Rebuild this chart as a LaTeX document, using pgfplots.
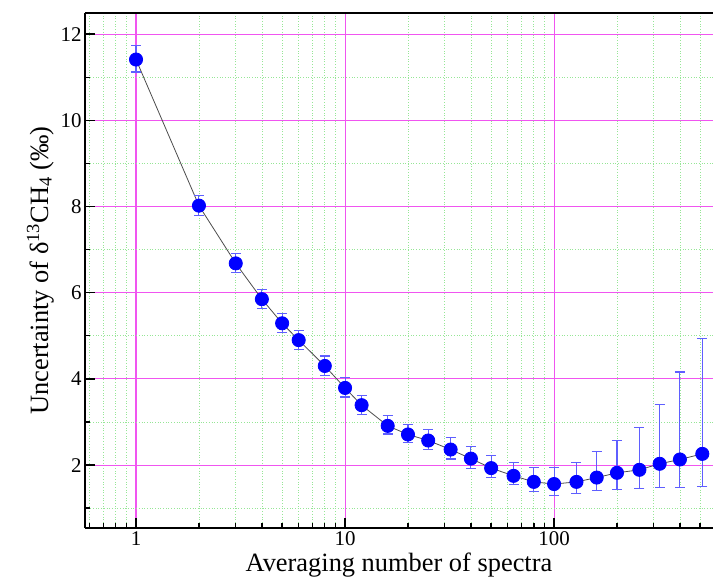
\documentclass[border=0pt]{standalone}
\usepackage{fontspec}
\setmainfont{Liberation Serif}
\usepackage{pgfplots}
\pgfplotsset{compat=1.18}
\usepackage{pgfplotstable}
\definecolor{majgrid}{RGB}{240,85,240}
\definecolor{mingrid}{RGB}{150,230,150}
\definecolor{errc}{RGB}{95,95,255}

\pgfplotstableread{
x y ep em
1 11.41 0.32 0.29
2 8.02 0.23 0.22
3 6.68 0.22 0.22
4 5.85 0.22 0.22
5 5.29 0.22 0.21
6 4.90 0.22 0.21
8 4.30 0.23 0.22
10 3.79 0.24 0.21
12 3.39 0.22 0.21
16 2.91 0.23 0.19
20 2.71 0.23 0.19
25 2.57 0.26 0.21
32 2.36 0.28 0.22
40 2.15 0.28 0.22
50 1.93 0.29 0.22
64 1.75 0.32 0.21
80 1.61 0.33 0.23
100 1.56 0.38 0.26
128 1.61 0.46 0.27
160 1.71 0.60 0.31
200 1.82 0.76 0.39
256 1.89 0.98 0.43
320 2.03 1.38 0.55
400 2.13 2.03 0.64
512 2.26 2.68 0.75
}\datatable

\begin{document}
\begin{tikzpicture}
\useasboundingbox (0,0) rectangle (713bp,588bp);
\begin{axis}[
  at={(85bp,60bp)}, anchor=south west,
  scale only axis, width=628bp, height=515bp,
  xmode=log, xmin=0.570, xmax=576, ymin=0.54, ymax=12.49,
  axis x line*=box, axis y line*=left,
  axis line style={black, line width=1.6bp},
  xtick={1,10,100}, xticklabels={1,10,100},
  minor xtick={0.6,0.7,0.8,0.9,2,3,4,5,6,7,8,9,20,30,40,50,60,70,80,90,200,300,400,500},
  ytick={2,4,6,8,10,12},
  minor ytick={1,3,5,7,9,11},
  xtick pos=bottom, ytick pos=left,
  tick align=inside,
  major tick length=10bp, minor tick length=5bp,
  every tick/.style={black, line width=1.4bp},
  grid=both,
  major grid style={majgrid, line width=1.1bp, solid},
  minor grid style={mingrid, line width=0.7bp, dotted},
  /pgf/number format/assume math mode=true,
  tick label style={font=\rmfamily\fontsize{21}{24}\selectfont},
  label style={font=\rmfamily\fontsize{26.5}{30}\selectfont},
  xlabel={Averaging number of spectra},
  ylabel={Uncertainty of δ\textsuperscript{13}CH\textsubscript{4} (‰)},
  clip=false,
]
\addplot[black!70, line width=0.8bp, mark=*, mark size=6.6bp,
  mark options={fill=blue, draw=blue, solid},
  error bars/.cd, y dir=both, y explicit,
  error bar style={errc, line width=1.1bp, solid},
  error mark options={rotate=90, mark size=5bp, errc, line width=1.1bp}]
  table[x=x, y=y, y error plus=ep, y error minus=em] {\datatable};
\end{axis}
\end{tikzpicture}
\end{document}
